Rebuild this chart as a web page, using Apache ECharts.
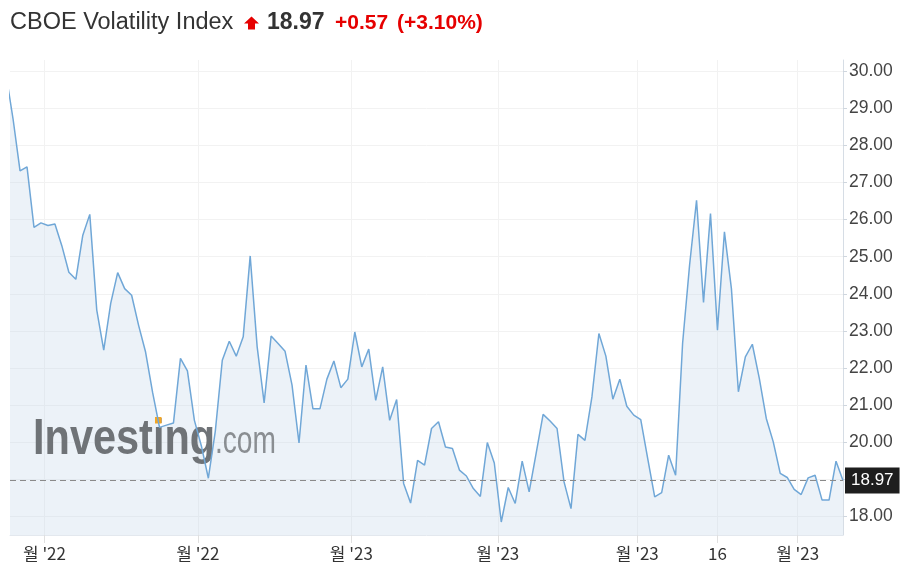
<!DOCTYPE html>
<html><head><meta charset="utf-8">
<script src="https://cdn.jsdelivr.net/npm/echarts/dist/echarts.min.js"></script>
<style>html,body{margin:0;padding:0;background:#fff}#c{width:911px;height:573px}</style>
</head><body><div id="c"></div>
<script>
// Daily closes (trading-day index 0..120); index 0 lies just left of the visible window
const closes = [
  29.90, 28.71, 27.31, 27.42, 25.79, 25.91, 25.84, 25.88, 25.29, 24.58,
  24.39, 25.58, 26.14, 23.56, 22.48, 23.74, 24.57, 24.14, 23.96, 23.15,
  22.43, 21.35, 20.40, 20.46, 20.52, 22.26, 21.92, 20.59, 19.90, 19.03,
  20.30, 22.21, 22.72, 22.32, 22.84, 25.02, 22.57, 21.06, 22.86, 22.66,
  22.45, 21.54, 19.98, 22.08, 20.90, 20.90, 21.70, 22.19, 21.47, 21.70,
  22.97, 22.03, 22.51, 21.13, 22.03, 20.59, 21.15, 18.89, 18.36, 19.51,
  19.38, 20.37, 20.55, 19.87, 19.83, 19.25, 19.09, 18.75, 18.54, 19.99,
  19.44, 17.85, 18.78, 18.35, 19.49, 18.66, 19.70, 20.75, 20.57, 20.37,
  18.93, 18.21, 20.21, 20.05, 21.22, 22.93, 22.32, 21.16, 21.70, 20.97,
  20.73, 20.61, 19.56, 18.53, 18.64, 19.65, 19.11, 22.66, 24.77, 26.52,
  23.77, 26.16, 23.02, 25.67, 24.14, 21.36, 22.30, 22.64, 21.72, 20.64,
  20.01, 19.16, 19.05, 18.73, 18.59, 19.04, 19.11, 18.44, 18.44, 19.49,
  18.97
];
const xTickPositions = [5.5, 27.5, 49.5, 70.5, 90.5, 102, 113.5];
const xTickLabels = ["월 '22", "월 '22", "월 '23", "월 '23", "월 '23", "16", "월 '23"];
const yTicks = [18, 19, 20, 21, 22, 23, 24, 25, 26, 27, 28, 29, 30];
const lastPrice = 18.97;
const titleText = "CBOE Volatility Index";
const priceText = "18.97";
const changeText = "+0.57";
const changePctText = "(+3.10%)";

const seriesData = closes.map((v, i) => [i, v]);

const chart = echarts.init(document.getElementById('c'), null, {renderer: 'canvas'});
const FONT = '"Liberation Sans", Arial, sans-serif';
const option = {
  animation: false,
  backgroundColor: '#fff',
  grid: {left: 10, right: 68, top: 60, bottom: 38, containLabel: false},
  xAxis: {
    type: 'value', min: 0.56, max: closes.length - 1,
    axisLine: {show: true, lineStyle: {color: '#e3e8ee'}},
    axisTick: {show: true, length: 8, customValues: xTickPositions, lineStyle: {color: '#e0e0e0'}},
    splitLine: {show: true, lineStyle: {color: '#f2f2f2', width: 1}},
    axisLabel: {
      customValues: xTickPositions, margin: 10, color: '#333', fontSize: 17,
      fontFamily: '"Noto Sans CJK KR", sans-serif',
      formatter: v => { const k = xTickPositions.indexOf(v); return k >= 0 ? xTickLabels[k] : ''; }
    }
  },
  yAxis: {
    type: 'value', position: 'right', min: 17.5, max: 30.3, scale: true,
    axisLine: {show: true, lineStyle: {color: '#d6dde5'}},
    axisTick: {show: true, length: 4, customValues: yTicks, lineStyle: {color: '#cfd6de'}},
    splitLine: {show: true, lineStyle: {color: '#f2f2f2', width: 1}},
    axisLabel: {customValues: yTicks, margin: 6, color: '#444', fontSize: 17.5, fontFamily: FONT,
      formatter: v => v.toFixed(2)}
  },
  graphic: {elements: [
    {type: 'text', x: 10, y: 22.6, z: 10,
      style: {text: titleText, font: '23.5px ' + FONT, fill: '#333', verticalAlign: 'middle'}},
    {type: 'polygon', z: 10, shape: {points: [[251.5,16.5],[259,23.5],[255,23.5],[255,29.5],[248,29.5],[248,23.5],[244,23.5]]},
      style: {fill: '#e60000'}},
    {type: 'text', x: 267, y: 22.8, z: 10,
      style: {text: priceText, font: 'bold 23px ' + FONT, fill: '#333', verticalAlign: 'middle'}},
    {type: 'text', x: 335, y: 23.5, z: 10,
      style: {text: changeText, font: 'bold 21px ' + FONT, fill: '#e60000', verticalAlign: 'middle'}},
    {type: 'text', x: 397, y: 23.5, z: 10,
      style: {text: changePctText, font: 'bold 21px ' + FONT, fill: '#e60000', verticalAlign: 'middle'}},
    {type: 'text', x: 33, y: 440, z: 2, scaleX: 0.83,
      style: {text: 'Investing', font: 'bold 50px ' + FONT, fill: '#6f7377', verticalAlign: 'middle'}},
    {type: 'rect', z: 2, shape: {x: 155, y: 417, width: 6.5, height: 6.5},
      style: {fill: '#f4a623'}},
    {type: 'text', x: 215, y: 442.6, z: 2, scaleX: 0.74,
      style: {text: '.com', font: '38px ' + FONT, fill: '#8a8e92', verticalAlign: 'middle'}}
  ]},
  series: [
    {type: 'line', data: seriesData, z: 1, symbol: 'none', silent: true,
      lineStyle: {width: 0, opacity: 0},
      areaStyle: {color: 'rgba(190,212,232,0.42)', origin: 'start'}},
    {type: 'line', data: seriesData, z: 3, symbol: 'none', silent: true,
      lineStyle: {color: '#70a7d7', width: 1.5},
      markLine: {
        silent: true, symbol: 'none',
        lineStyle: {color: '#8a8a8a', type: [6, 4], width: 1},
        label: {show: true, position: 'end', distance: 2, formatter: String(lastPrice.toFixed(2)),
          backgroundColor: '#1e1e1e', color: '#fff', fontSize: 17, fontFamily: FONT, padding: [5, 6, 4, 6]},
        data: [{yAxis: lastPrice}]
      }}
  ]
};
chart.setOption(option);
</script></body></html>
